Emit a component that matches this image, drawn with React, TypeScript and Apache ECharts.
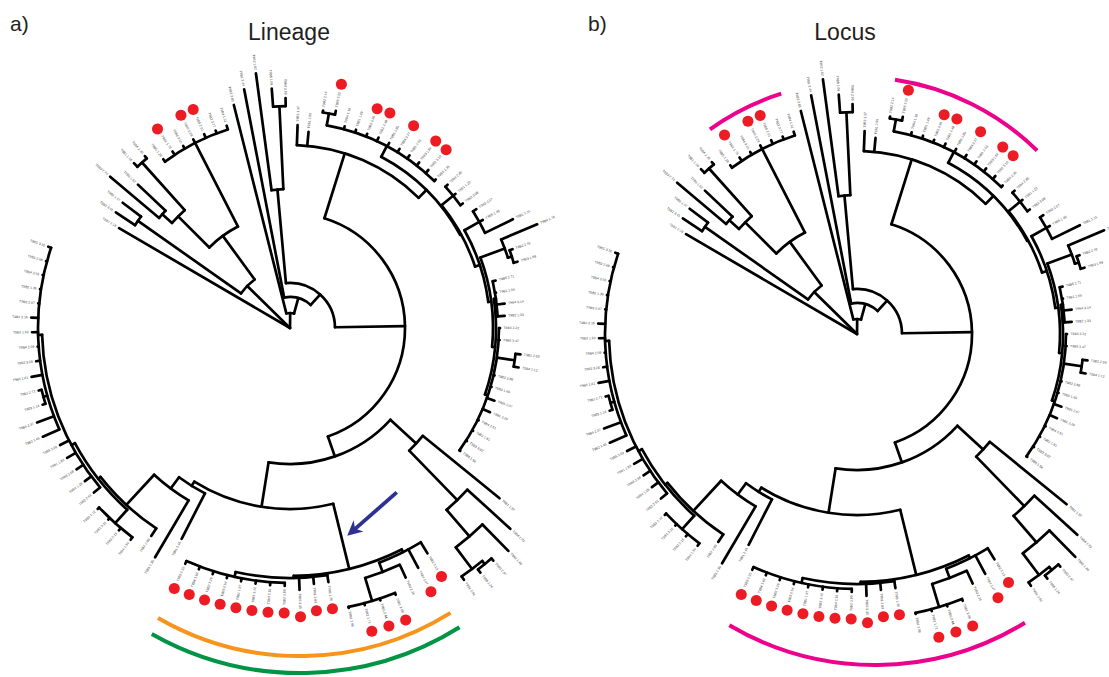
import React, { useEffect, useRef } from 'react';
import * as echarts from 'echarts';

// Tree in Newick form; the number after ":" is the node's absolute distance from the root (radius units).
const TREE_NEWICK = `
(T9B1_2.18:198,
 ((T9B2_3.41:209,T9B2_1.07:209):186,
  (((T9B3_2.74:235,T9B3_1.52:209):171,(T9B1_1.16:227,T9B4_2.39:225):222):158,
   (T9B5_1.28:211,T9B1_1.73:212,T9B4_3.10:211,T9B3_2.29:212,T9B5_2.61:212,T9B2_2.77:211,T9B4_1.91:212):208
  ):114
 ):60,
 (T9B3_3.05:230,
  (T9B1_3.44:243,
   ((T9B2_1.62:257,(T9B5_1.09:240,T9B4_2.66:230):222):139,
    ((T9B3_1.37:203,T9B1_2.95:197,
      (((T9B2_2.14:220,T9B5_3.22:222):218,T9B4_1.18:209,T9B1_1.49:209,T9B3_3.36:209,T9B2_2.48:210,T9B5_1.85:210,T9B4_3.27:210,T9B1_2.03:210,T9B3_1.64:210,T9B2_3.19:210,T9B5_2.36:208):206,
       ((T9B4_2.85:213,T9B1_1.22:213,T9B2_3.08:213):210,
        ((T9B3_2.57:221,T9B5_1.43:221,T9B1_3.31:248):217,
         ((T9B4_1.76:268,(T9B2_2.42:236,T9B3_1.98:237):233):229,
          ((T9B5_2.71:211,T9B1_1.55:209,T9B4_3.14:216,T9B2_1.33:215):208,
           (T9B3_2.22:210,T9B5_3.47:210,(T9B1_2.59:232,T9B4_1.12:232):227,T9B2_2.88:210,T9B3_1.69:210,T9B5_2.07:217,T9B1_3.39:217,T9B4_2.51:210,T9B2_1.81:210,T9B3_3.02:210,T9B5_1.58:210):209
          ):206
         ):203
        ):200
       ):195
      ):194
     ):183,
     ((T9B1_1.32:270,(T9B4_2.93:298,(T9B2_1.40:312,((T9B3_2.67:309,T9B5_1.24:310):306,T9B1_2.81:306):302):275):240):171,
      (((T9B2_3.13:264,T9B4_1.47:272,(T9B3_2.26:275,(T9B1_3.08:287,T9B5_2.44:287,T9B2_1.71:287,T9B4_2.98:286):285):261):251,
        (T9B3_1.26:257,T9B1_2.63:257,T9B5_3.35:262,(T9B2_1.89:258,T9B4_2.15:258,T9B3_3.42:258,T9B1_1.97:258,T9B5_2.54:258,T9B2_3.26:258,T9B4_1.63:258,T9B3_2.32:258):255):250
       ):248,
       (T9B1_2.46:237,
        (T9B5_1.35:266,
         (T9B2_2.83:250,
          ((T9B4_1.54:265,T9B3_2.19:265,T9B1_3.21:264,T9B5_1.72:264):262,
           (T9B2_2.91:256,T9B4_1.29:256,T9B3_2.58:256,T9B1_1.83:258,T9B5_3.09:258,
            (T9B2_1.45:270,T9B4_2.37:270,(T9B3_1.14:259,T9B1_2.72:259):256,T9B5_1.61:263,T9B2_3.28:256,T9B4_2.09:253,T9B3_1.93:258,T9B1_3.16:259,T9B5_2.47:253,T9B2_1.36:253,T9B4_3.03:253,T9B3_2.68:253,T9B5_3.16:255):252
           ):248
          ):244
         ):241
        ):200
       ):186
      ):181
     ):136
    ):115
   ):45
  ):31
 ):15
):0;
`;

// Tips marked with a red dot (identical in both panels)
const DOT_TIPS = [
  'T9B1_1.73', 'T9B3_2.29', 'T9B5_2.61',
  'T9B5_3.22', 'T9B3_3.36', 'T9B2_2.48', 'T9B4_3.27', 'T9B3_1.64', 'T9B2_3.19',
  'T9B2_3.13', 'T9B4_1.47', 'T9B1_3.08', 'T9B5_2.44', 'T9B2_1.71',
  'T9B3_1.26', 'T9B1_2.63', 'T9B5_3.35', 'T9B2_1.89', 'T9B4_2.15', 'T9B3_3.42',
  'T9B1_1.97', 'T9B5_2.54', 'T9B2_3.26', 'T9B4_1.63', 'T9B3_2.32',
];

// layout of tips around the circle (compass degrees)
const LEAF_START_DEG = -59.7;
const LEAF_STEP_DEG = 3.255;
const DOT_OFFSET = 27;
const LABEL_OFFSET = 3.5;

const PANEL_ROOT_CENTERS = [[290, 328], [857, 334]];
const PANEL_ANNOT_CENTERS = [[300, 372], [875, 378]];
const PANEL_TITLES = ['Lineage', 'Locus'];
const PANEL_TITLE_X = [289, 845];
const PANEL_LETTERS = ['a)', 'b)'];
const PANEL_LETTER_X = [10, 588];

// highlight arcs: [radius, startDeg, endDeg]
const A_ANNOT_ARCS = [[284, 148, 210], [301, 148, 209.5]];
const A_ANNOT_COLORS = ['#f7941d', '#009444'];
const B_ROOT_ARCS = [[252, -35.7, -17.5], [257, 8.5, 44.5]];
const B_ANNOT_ARCS = [[287, 148.5, 210.5]];
const B_COLOR = '#ec008c';
// arrow: [tailRadius, tailDeg, tipRadius, tipDeg]
const A_ARROW = [[196, 147, 215.5, 164.6]];
const ARROW_COLOR = '#2e3192';

type TNode = { name: string; depth: number; children: TNode[]; angle: number };

function parseNewick(src: string): TNode {
  const s = src.replace(/\s+/g, '');
  let i = 0;
  const parseNode = (): TNode => {
    const node: TNode = { name: '', depth: 0, children: [], angle: 0 };
    if (s[i] === '(') {
      i++;
      for (;;) {
        node.children.push(parseNode());
        if (s[i] === ',') { i++; continue; }
        if (s[i] === ')') { i++; break; }
        throw new Error('newick parse error at ' + i);
      }
    }
    let name = '';
    while (i < s.length && ':,();'.indexOf(s[i]) < 0) name += s[i++];
    node.name = name;
    if (s[i] === ':') {
      i++;
      let num = '';
      while (i < s.length && ',();'.indexOf(s[i]) < 0) num += s[i++];
      node.depth = parseFloat(num);
    }
    return node;
  };
  return parseNode();
}

function layoutTree(root: TNode) {
  const leaves: TNode[] = [];
  const branches: number[][] = [];
  let idx = 0;
  const visit = (n: TNode, parentDepth: number | null) => {
    if (!n.children.length) {
      n.angle = LEAF_START_DEG + idx * LEAF_STEP_DEG;
      idx++;
      leaves.push(n);
    } else {
      n.children.forEach((c) => visit(c, n.depth));
      n.angle = n.children.reduce((acc, c) => acc + c.angle, 0) / n.children.length;
    }
    const a0 = n.children.length ? n.children[0].angle : n.angle;
    const a1 = n.children.length ? n.children[n.children.length - 1].angle : n.angle;
    branches.push([n.depth, n.angle, parentDepth === null ? n.depth : parentDepth, a0, a1]);
  };
  visit(root, null);
  return { leaves, branches };
}

function arcShape(api: any, cs: any, r: number, a0: number, a1: number) {
  const c = api.coord([0, a0]);
  const cx = cs && cs.cx != null ? cs.cx : c[0];
  const cy = cs && cs.cy != null ? cs.cy : c[1];
  const s = api.coord([r, a0]);
  const e = api.coord([r, a1]);
  const rad = Math.hypot(s[0] - cx, s[1] - cy);
  const sa = Math.atan2(s[1] - cy, s[0] - cx);
  let ea = Math.atan2(e[1] - cy, e[0] - cx);
  while (ea < sa) ea += Math.PI * 2;
  return { cx, cy, r: rad, startAngle: sa, endAngle: ea, clockwise: true };
}

const LW = 2.7;

function buildOption() {
  const root = parseNewick(TREE_NEWICK);
  const { leaves, branches } = layoutTree(root);
  const leafNames = leaves.map((l) => l.name.replace(/_/g, ' '));
  const labelData = leaves.map((l) => [l.depth + LABEL_OFFSET, l.angle]);
  const dotData = leaves.filter((l) => DOT_TIPS.indexOf(l.name) >= 0).map((l) => [l.depth + DOT_OFFSET, l.angle]);

  const polar: any[] = [];
  const angleAxis: any[] = [];
  const radiusAxis: any[] = [];
  const series: any[] = [];
  const hidden = { show: false, axisLine: { show: false }, axisTick: { show: false }, axisLabel: { show: false }, splitLine: { show: false } };
  const addPolar = (center: number[]) => {
    const i = polar.length;
    polar.push({ center, radius: 350 });
    angleAxis.push({ polarIndex: i, type: 'value', min: -60, max: 300, startAngle: 150, clockwise: true, ...hidden });
    radiusAxis.push({ polarIndex: i, type: 'value', min: 0, max: 350, ...hidden });
    return i;
  };

  const arcSeries = (pi: number, data: number[][], colors: string[], width: number) => ({
    type: 'custom', coordinateSystem: 'polar', polarIndex: pi, silent: true, clip: false,
    data,
    renderItem: (params: any, api: any) => {
      const shape = arcShape(api, params.coordSys, api.value(0), api.value(1), api.value(2));
      return {
        type: 'arc', shape,
        style: { stroke: colors[params.dataIndex % colors.length], fill: 'none', lineWidth: width, lineCap: 'butt' },
      };
    },
  });

  [0, 1].forEach((p) => {
    const main = addPolar(PANEL_ROOT_CENTERS[p]);
    const annot = addPolar(PANEL_ANNOT_CENTERS[p]);

    series.push({
      type: 'custom', coordinateSystem: 'polar', polarIndex: main, silent: true, clip: false,
      data: branches,
      renderItem: (params: any, api: any) => {
        const r = api.value(0), a = api.value(1), pr = api.value(2), a0 = api.value(3), a1 = api.value(4);
        const children: any[] = [];
        if (r > pr) {
          const q = api.coord([pr, a]);
          const t = api.coord([r, a]);
          children.push({
            type: 'line', shape: { x1: q[0], y1: q[1], x2: t[0], y2: t[1] },
            style: { stroke: '#000', lineWidth: LW, lineCap: 'round' },
          });
        }
        if (a1 > a0 && r > 0) {
          children.push({
            type: 'arc', shape: arcShape(api, params.coordSys, r, a0, a1),
            style: { stroke: '#000', fill: 'none', lineWidth: LW, lineCap: 'round' },
          });
        }
        return { type: 'group', children };
      },
    });

    series.push({
      type: 'custom', coordinateSystem: 'polar', polarIndex: main, silent: true, clip: false,
      data: labelData,
      renderItem: (params: any, api: any) => {
        const r = api.value(0), a = api.value(1);
        const pt = api.coord([r, a]);
        const th = ((a % 360) + 360) % 360;
        const right = th <= 180;
        const rot = ((right ? 90 : 270) - th) * Math.PI / 180;
        return {
          type: 'text', x: pt[0], y: pt[1], rotation: rot,
          style: {
            text: leafNames[params.dataIndex], fontSize: 3.4, fill: '#444',
            align: right ? 'left' : 'right', verticalAlign: 'middle',
            fontFamily: 'Liberation Sans, Arial, sans-serif',
          },
        };
      },
    });

    series.push({
      type: 'scatter', coordinateSystem: 'polar', polarIndex: main, silent: true,
      symbol: 'circle', symbolSize: 11, itemStyle: { color: '#ed1c24', opacity: 1 }, data: dotData,
    });

    if (p === 0) {
      series.push(arcSeries(annot, A_ANNOT_ARCS, A_ANNOT_COLORS, 4));
      series.push({
        type: 'custom', coordinateSystem: 'polar', polarIndex: main, silent: true, clip: false,
        data: A_ARROW,
        renderItem: (params: any, api: any) => {
          const t = api.coord([api.value(0), api.value(1)]);
          const h = api.coord([api.value(2), api.value(3)]);
          const dx = h[0] - t[0], dy = h[1] - t[1];
          const L = Math.hypot(dx, dy);
          const ux = dx / L, uy = dy / L, nx = -uy, ny = ux;
          const HL = 15, HW = 7.5, NOTCH = 10.5;
          const bx = h[0] - ux * HL, by = h[1] - uy * HL;
          const mx = h[0] - ux * NOTCH, my = h[1] - uy * NOTCH;
          return {
            type: 'group',
            children: [
              { type: 'line', shape: { x1: t[0], y1: t[1], x2: mx, y2: my }, style: { stroke: ARROW_COLOR, lineWidth: 3.8, lineCap: 'butt' } },
              { type: 'polygon', shape: { points: [[h[0], h[1]], [bx + nx * HW, by + ny * HW], [mx, my], [bx - nx * HW, by - ny * HW]] }, style: { fill: ARROW_COLOR } },
            ],
          };
        },
      });
    } else {
      series.push(arcSeries(main, B_ROOT_ARCS, [B_COLOR], 4));
      series.push(arcSeries(annot, B_ANNOT_ARCS, [B_COLOR], 4));
    }
  });

  const graphic: any[] = [];
  [0, 1].forEach((p) => {
    graphic.push({
      type: 'text', x: PANEL_TITLE_X[p], y: 32, silent: true,
      style: { text: PANEL_TITLES[p], fontSize: 23, fill: '#231f20', align: 'center', verticalAlign: 'middle', fontFamily: 'Liberation Sans, Arial, sans-serif' },
    });
    graphic.push({
      type: 'text', x: PANEL_LETTER_X[p], y: 23, silent: true,
      style: { text: PANEL_LETTERS[p], fontSize: 21, fill: '#231f20', align: 'left', verticalAlign: 'middle', fontFamily: 'Liberation Sans, Arial, sans-serif' },
    });
  });

  return { backgroundColor: '#ffffff', animation: false, polar, angleAxis, radiusAxis, series, graphic };
}

export default function App() {
  const ref = useRef<HTMLDivElement>(null);
  useEffect(() => {
    if (!ref.current) return;
    const chart = echarts.init(ref.current, undefined, { renderer: 'svg' });
    chart.setOption(buildOption() as any);
    return () => chart.dispose();
  }, []);
  return <div ref={ref} style={{ position: 'fixed', left: 0, top: 0, width: 1109, height: 677, background: '#fff' }} />;
}
